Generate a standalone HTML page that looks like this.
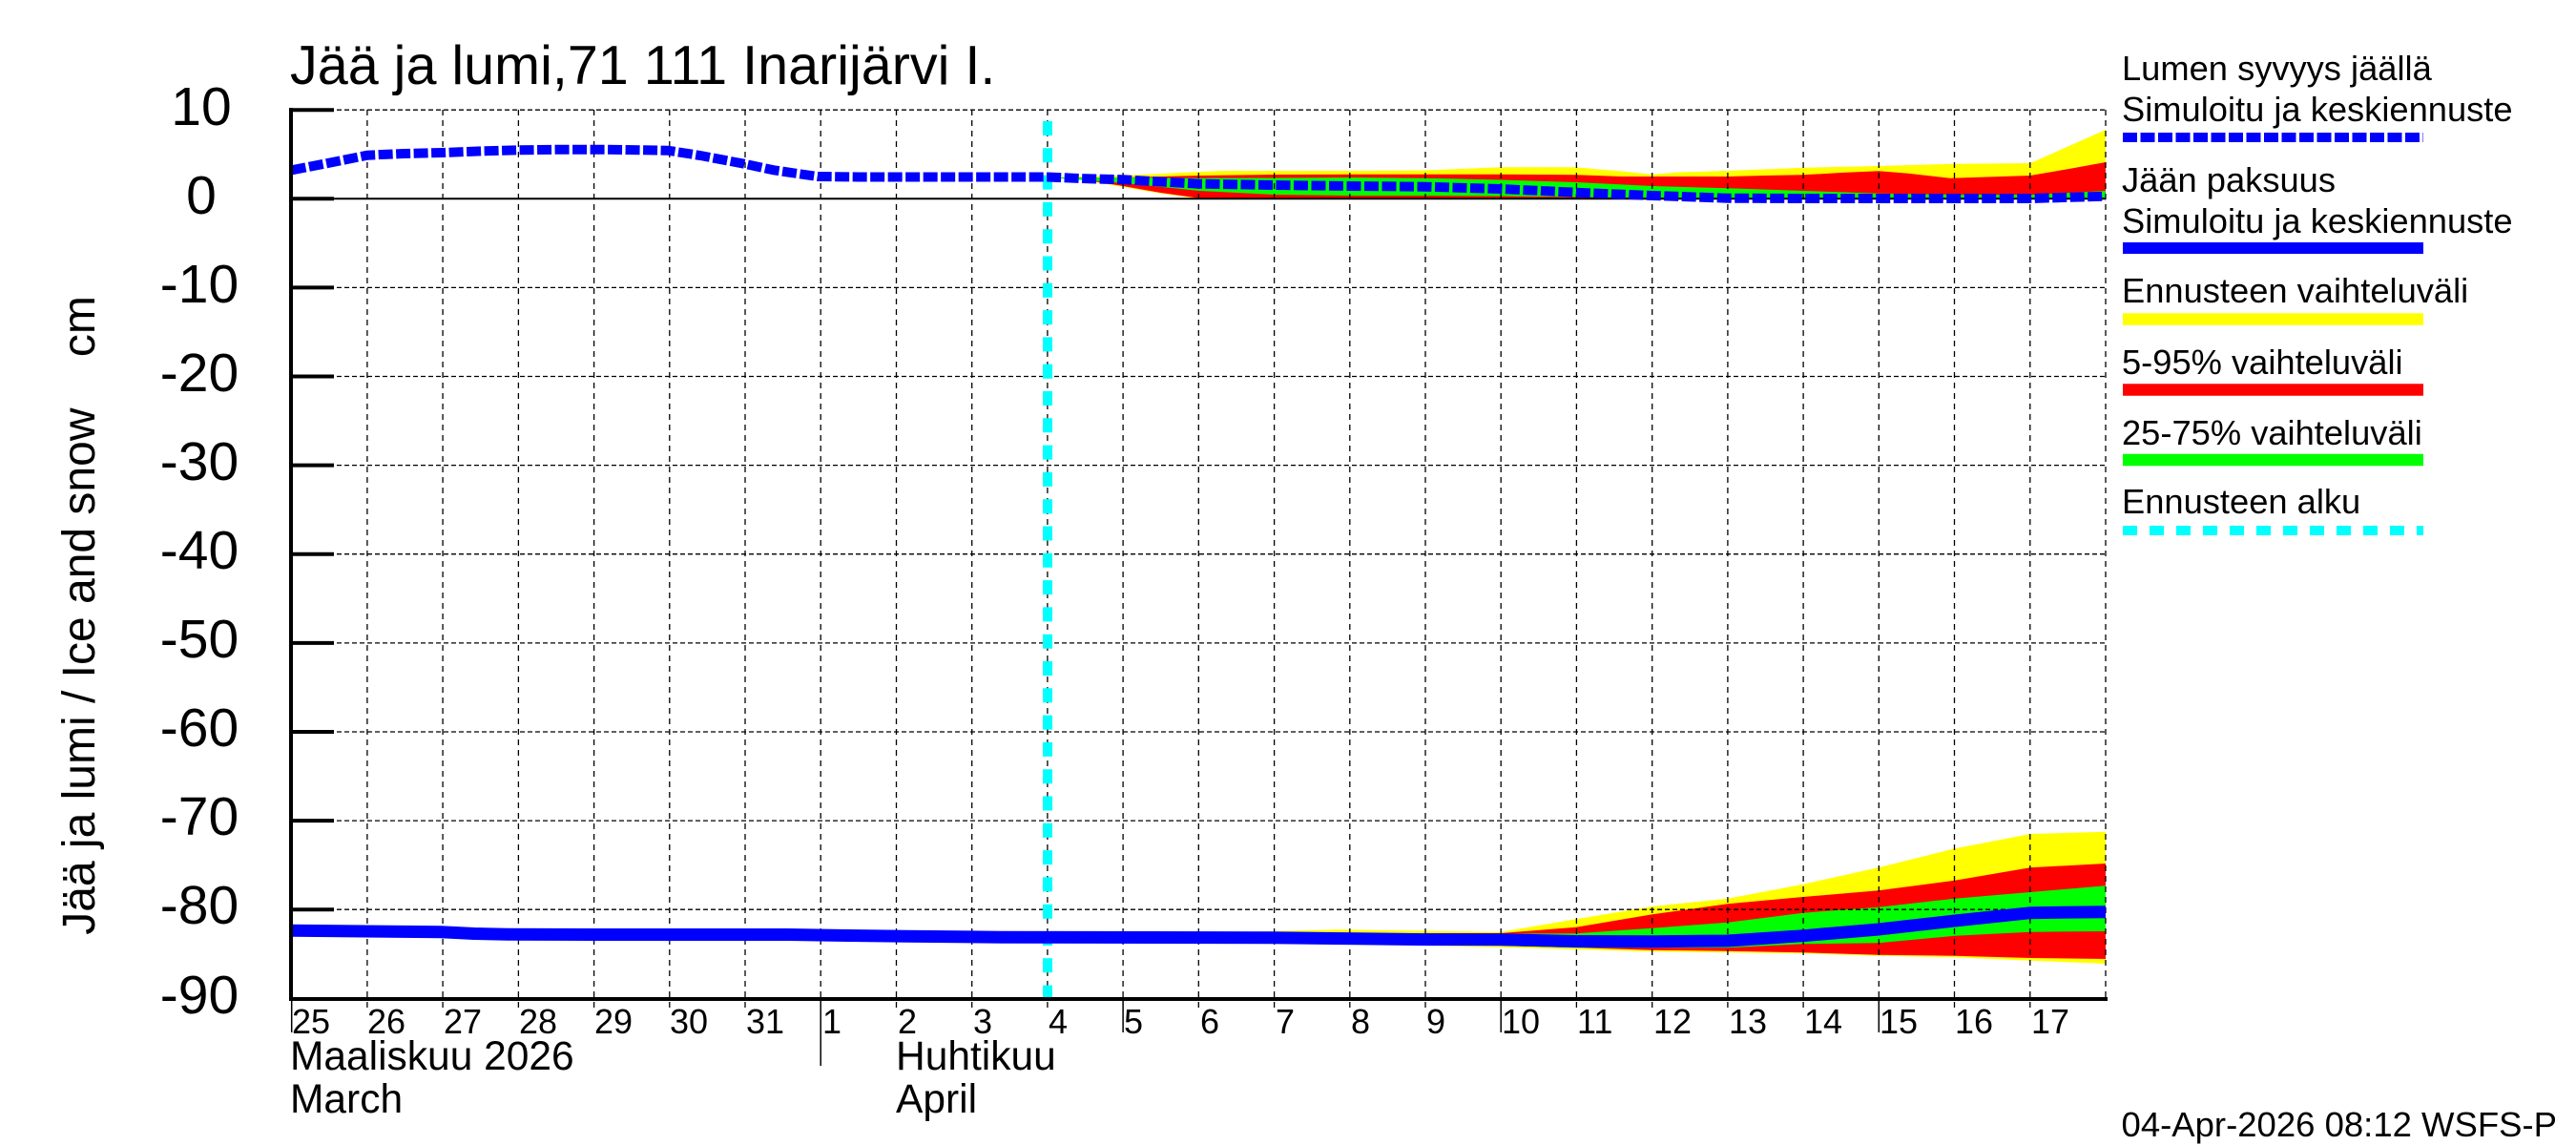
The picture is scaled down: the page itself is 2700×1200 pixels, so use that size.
<!DOCTYPE html>
<html>
<head>
<meta charset="utf-8">
<style>
html,body{margin:0;padding:0;background:#fff;}
svg{display:block;}
text{font-family:"Liberation Sans",Arial,sans-serif;fill:#000;}
</style>
</head>
<body>
<svg width="2700" height="1200" viewBox="0 0 2700 1200" xmlns="http://www.w3.org/2000/svg">
<rect x="0" y="0" width="2700" height="1200" fill="#fff"/>

<!-- Title -->
<text x="304" y="88" font-size="57.5">Jää ja lumi,71 111 Inarijärvi I.</text>

<!-- Y axis title -->
<text transform="translate(99,645) rotate(-90)" text-anchor="middle" font-size="48" style="white-space:pre" xml:space="preserve">Jää ja lumi / Ice and snow    cm</text>

<!-- Y tick labels -->
<g font-size="57" text-anchor="middle">
<text x="211" y="131">10</text>
<text x="211" y="224">0</text>
<text x="209" y="317">-10</text>
<text x="209" y="410">-20</text>
<text x="209" y="503">-30</text>
<text x="209" y="596">-40</text>
<text x="209" y="689">-50</text>
<text x="209" y="782">-60</text>
<text x="209" y="875">-70</text>
<text x="209" y="968">-80</text>
<text x="209" y="1062">-90</text>
</g>

<!-- ===== Snow bands ===== -->
<path fill="#ffff00" d="M1098,186 L1177,184 L1257,180 L1282,179 L1336,179 L1415,179 L1494,178.5 L1514,177.7 L1573,175.3 L1652,175.3 L1670,177 L1700,179.5 L1732,182.7 L1760,180.5 L1811,179 L1890,175.7 L1969,174 L2049,171.7 L2128,171 L2207,136 L2207,209 L1336,209 L1257,208.5 L1215,202.5 L1177,196 L1124,187 Z"/>
<path fill="#ff0000" d="M1098,186 L1177,186 L1257,184 L1336,183 L1415,182.8 L1494,182.7 L1573,182.7 L1652,183.3 L1700,185 L1732,185 L1811,185 L1850,184 L1890,183.3 L1930,181 L1969,179.3 L2000,181.7 L2044,186.7 L2128,184 L2170,176.7 L2207,170 L2207,208.3 L1336,208.3 L1257,207.7 L1215,201.7 L1177,195 L1124,186.5 Z"/>
<path fill="#00ff00" d="M1098,186 L1177,186 L1257,186.7 L1336,186.5 L1415,186 L1494,186.7 L1573,188.5 L1652,191 L1732,195 L1811,197.3 L1890,200 L1969,202.7 L2049,204 L2128,204.3 L2207,200 L2207,208.3 L1890,208.3 L1811,207.7 L1732,207.3 L1652,206.5 L1573,205.5 L1494,205 L1415,205 L1336,204 L1257,200 L1177,191.7 Z"/>

<!-- ===== Ice bands ===== -->
<path fill="#ffff00" d="M1320,976.3 L1400,974.3 L1494,975.5 L1573,976.7 L1652,963.3 L1732,950 L1811,941.7 L1890,926.7 L1969,909.3 L2049,889.3 L2128,874 L2207,871.7 L2207,1010 L2128,1006.7 L2049,1003.3 L1969,1001.7 L1890,999.3 L1811,998.3 L1732,997.3 L1652,995 L1573,992.7 L1494,991 L1320,989 Z"/>
<path fill="#ff0000" d="M1494,978 L1573,978 L1652,971.7 L1732,958.3 L1811,947.3 L1890,940 L1969,933.3 L2049,922.7 L2128,909.3 L2207,905 L2207,1005 L2128,1004 L2049,1001.7 L1969,1000.7 L1890,998.3 L1811,996.7 L1732,995.7 L1652,993.3 L1573,991 L1494,990 Z"/>
<path fill="#00ff00" d="M1573,978.5 L1652,978.3 L1732,972.7 L1811,966.7 L1890,956.7 L1969,950.7 L2049,941.7 L2128,935 L2207,928.3 L2207,976 L2128,976.7 L2049,980.7 L1969,988.3 L1890,989.3 L1811,993.3 L1732,993.3 L1652,993.3 L1573,991 Z"/>

<!-- ===== Grid ===== -->
<g stroke="#000" stroke-width="1.3" stroke-dasharray="6 5" fill="none">
<line x1="384.9" y1="115" x2="384.9" y2="1057"/>
<line x1="464.1" y1="115" x2="464.1" y2="1057"/>
<line x1="543.4" y1="115" x2="543.4" y2="1057"/>
<line x1="622.6" y1="115" x2="622.6" y2="1057"/>
<line x1="701.8" y1="115" x2="701.8" y2="1057"/>
<line x1="781.0" y1="115" x2="781.0" y2="1057"/>
<line x1="860.2" y1="115" x2="860.2" y2="1047"/>
<line x1="939.5" y1="115" x2="939.5" y2="1057"/>
<line x1="1018.7" y1="115" x2="1018.7" y2="1057"/>
<line x1="1097.9" y1="115" x2="1097.9" y2="1057"/>
<line x1="1177.1" y1="115" x2="1177.1" y2="1047"/>
<line x1="1256.3" y1="115" x2="1256.3" y2="1057"/>
<line x1="1335.6" y1="115" x2="1335.6" y2="1057"/>
<line x1="1414.8" y1="115" x2="1414.8" y2="1057"/>
<line x1="1494.0" y1="115" x2="1494.0" y2="1057"/>
<line x1="1573.2" y1="115" x2="1573.2" y2="1047"/>
<line x1="1652.4" y1="115" x2="1652.4" y2="1057"/>
<line x1="1731.7" y1="115" x2="1731.7" y2="1057"/>
<line x1="1810.9" y1="115" x2="1810.9" y2="1057"/>
<line x1="1890.1" y1="115" x2="1890.1" y2="1057"/>
<line x1="1969.3" y1="115" x2="1969.3" y2="1047"/>
<line x1="2048.5" y1="115" x2="2048.5" y2="1057"/>
<line x1="2127.8" y1="115" x2="2127.8" y2="1057"/>
<line x1="2207" y1="115" x2="2207" y2="1047"/>
</g>
<g stroke="#000" stroke-width="1.3" stroke-dasharray="5 3" fill="none">
<line x1="305" y1="115.2" x2="2207" y2="115.2"/>
<line x1="305" y1="301.4" x2="2207" y2="301.4"/>
<line x1="305" y1="394.5" x2="2207" y2="394.5"/>
<line x1="305" y1="487.6" x2="2207" y2="487.6"/>
<line x1="305" y1="580.7" x2="2207" y2="580.7"/>
<line x1="305" y1="673.9" x2="2207" y2="673.9"/>
<line x1="305" y1="767.0" x2="2207" y2="767.0"/>
<line x1="305" y1="860.1" x2="2207" y2="860.1"/>
<line x1="305" y1="953.2" x2="2207" y2="953.2"/>
</g>
<!-- zero line -->
<line x1="305" y1="208.3" x2="2207" y2="208.3" stroke="#000" stroke-width="2"/>

<!-- x ticks below axis (long ones / month separator) -->
<g stroke="#000" stroke-width="1.5">
<line x1="305.7" y1="1047" x2="305.7" y2="1082"/>
<line x1="1177.1" y1="1047" x2="1177.1" y2="1082"/>
<line x1="1573.2" y1="1047" x2="1573.2" y2="1082"/>
<line x1="1969.3" y1="1047" x2="1969.3" y2="1082"/>
<line x1="860.2" y1="1047" x2="860.2" y2="1117"/>
</g>

<!-- Forecast start (cyan) -->
<line x1="1098" y1="127" x2="1098" y2="1048" stroke="#00ffff" stroke-width="10" stroke-dasharray="15 13.3"/>

<!-- Snow median (blue dashed) -->
<polyline fill="none" stroke="#0000ff" stroke-width="10" stroke-dasharray="15 3.5" points="305.7,178.3 340,171.7 385,162.7 423,161 463,160 507,158.3 543,157.3 590,156.7 637,156.7 700,157.7 734,163 780,171.7 811,178.3 857,185 900,185.5 1098,185.5 1132,187 1177,188.3 1257,192.7 1336,194 1415,195 1494,195.7 1573,198 1652,201.7 1732,205 1811,207.7 1890,208 2128,208 2207,205.7"/>

<!-- Ice median (blue solid) -->
<polyline fill="none" stroke="#0000ff" stroke-width="13" points="305.7,975.3 462,976.7 497,978.5 532,979.3 622,979.5 826,979.5 888,980.5 950,981.2 1050,982.2 1332,982.8 1423,983.8 1494,984.6 1573,984.7 1652,986.5 1732,986.7 1811,986 1890,980.7 1969,974 2049,965 2128,956.7 2207,955.7"/>

<!-- Axes -->
<line x1="305" y1="113" x2="305" y2="1049" stroke="#000" stroke-width="4"/>
<line x1="303" y1="1047" x2="2209" y2="1047" stroke="#000" stroke-width="4"/>
<g stroke="#000" stroke-width="4">
<line x1="305" y1="115.2" x2="350" y2="115.2"/>
<line x1="305" y1="208.3" x2="350" y2="208.3"/>
<line x1="305" y1="301.4" x2="350" y2="301.4"/>
<line x1="305" y1="394.5" x2="350" y2="394.5"/>
<line x1="305" y1="487.6" x2="350" y2="487.6"/>
<line x1="305" y1="580.7" x2="350" y2="580.7"/>
<line x1="305" y1="673.9" x2="350" y2="673.9"/>
<line x1="305" y1="767.0" x2="350" y2="767.0"/>
<line x1="305" y1="860.1" x2="350" y2="860.1"/>
<line x1="305" y1="953.2" x2="350" y2="953.2"/>
</g>

<!-- X day labels -->
<g font-size="36">
<text x="306" y="1083">25</text>
<text x="385" y="1083">26</text>
<text x="465" y="1083">27</text>
<text x="544" y="1083">28</text>
<text x="623" y="1083">29</text>
<text x="702" y="1083">30</text>
<text x="782" y="1083">31</text>
<text x="862" y="1083">1</text>
<text x="941" y="1083">2</text>
<text x="1020" y="1083">3</text>
<text x="1099" y="1083">4</text>
<text x="1178" y="1083">5</text>
<text x="1258" y="1083">6</text>
<text x="1337" y="1083">7</text>
<text x="1416" y="1083">8</text>
<text x="1495" y="1083">9</text>
<text x="1574" y="1083">10</text>
<text x="1653" y="1083">11</text>
<text x="1733" y="1083">12</text>
<text x="1812" y="1083">13</text>
<text x="1891" y="1083">14</text>
<text x="1970" y="1083">15</text>
<text x="2049" y="1083">16</text>
<text x="2129" y="1083">17</text>
</g>

<!-- Month labels -->
<g font-size="42.5">
<text x="304" y="1121">Maaliskuu 2026</text>
<text x="304" y="1166">March</text>
<text x="939" y="1121">Huhtikuu</text>
<text x="939" y="1166">April</text>
</g>

<!-- Legend -->
<g font-size="36.3">
<text x="2224" y="84">Lumen syvyys jäällä</text>
<text x="2224" y="127">Simuloitu ja keskiennuste</text>
<text x="2224" y="201">Jään paksuus</text>
<text x="2224" y="244">Simuloitu ja keskiennuste</text>
<text x="2224" y="317">Ennusteen vaihteluväli</text>
<text x="2224" y="392">5-95% vaihteluväli</text>
<text x="2224" y="466">25-75% vaihteluväli</text>
<text x="2224" y="538">Ennusteen alku</text>
</g>
<line x1="2225" y1="144" x2="2540" y2="144" stroke="#0000ff" stroke-width="10" stroke-dasharray="15 3.5"/>
<line x1="2225" y1="260" x2="2540" y2="260" stroke="#0000ff" stroke-width="12"/>
<line x1="2225" y1="334.5" x2="2540" y2="334.5" stroke="#ffff00" stroke-width="12.5"/>
<line x1="2225" y1="408.5" x2="2540" y2="408.5" stroke="#ff0000" stroke-width="12.5"/>
<line x1="2225" y1="482" x2="2540" y2="482" stroke="#00ff00" stroke-width="12.5"/>
<line x1="2225" y1="556" x2="2540" y2="556" stroke="#00ffff" stroke-width="10" stroke-dasharray="15 13"/>

<!-- Timestamp -->
<text x="2680" y="1191" font-size="36.5" text-anchor="end">04-Apr-2026 08:12 WSFS-P</text>
</svg>
</body>
</html>
